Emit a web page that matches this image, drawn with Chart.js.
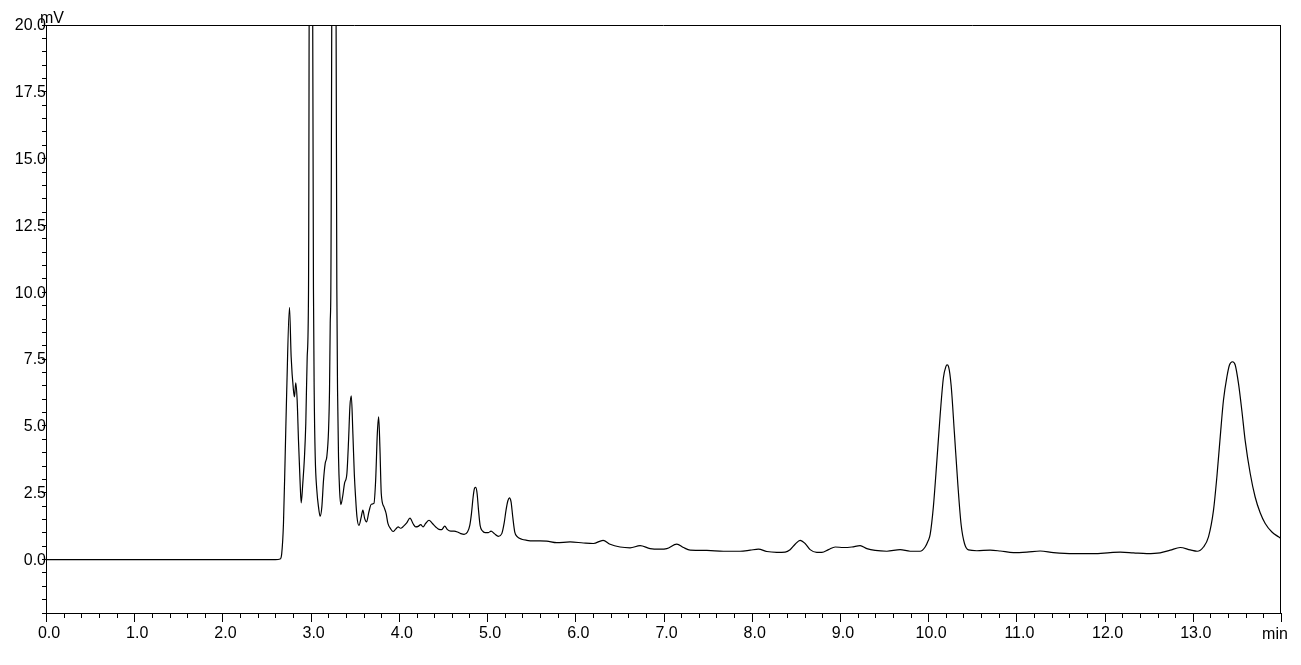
<!DOCTYPE html>
<html>
<head>
<meta charset="utf-8">
<script src="https://cdn.jsdelivr.net/npm/chart.js@4"></script>
<style>
html,body{margin:0;padding:0;background:#fff;}
#wrap{width:1301px;height:665px;position:relative;}
</style>
</head>
<body>
<div id="wrap"><canvas id="c" width="1301" height="665"></canvas></div>
<script>
// ---- data (retention time in min, detector signal in mV) ----
const timeMin = [
  0.000, 1.000, 2.000, 2.600, 2.654, 2.672, 2.692, 2.711, 2.729, 2.760,
  2.779, 2.805, 2.817, 2.831, 2.847, 2.862, 2.881, 2.893, 2.911, 2.930,
  2.945, 2.961, 2.976, 2.998, 3.032, 3.040, 3.052, 3.070, 3.089, 3.108,
  3.127, 3.146, 3.165, 3.183, 3.203, 3.214, 3.222, 3.229, 3.263, 3.297,
  3.305, 3.316, 3.328, 3.342, 3.362, 3.384, 3.411, 3.430, 3.445, 3.461,
  3.479, 3.495, 3.510, 3.525, 3.547, 3.574, 3.592, 3.612, 3.634, 3.660,
  3.688, 3.717, 3.737, 3.756, 3.771, 3.785, 3.801, 3.831, 3.856, 3.876,
  3.907, 3.935, 3.964, 3.992, 4.020, 4.051, 4.089, 4.126, 4.163, 4.191,
  4.219, 4.248, 4.274, 4.304, 4.342, 4.380, 4.418, 4.455, 4.486, 4.520,
  4.551, 4.588, 4.626, 4.664, 4.702, 4.739, 4.778, 4.804, 4.823, 4.842,
  4.857, 4.872, 4.887, 4.903, 4.921, 4.948,
  4.977, 5.015, 5.045, 5.083, 5.128, 5.167, 5.193, 5.215, 5.235, 5.253,
  5.272, 5.291, 5.314, 5.344, 5.393, 5.450, 5.525, 5.601, 5.677, 5.790,
  5.941, 6.092, 6.205, 6.315, 6.395, 6.508, 6.621, 6.735, 6.848, 6.961,
  7.037, 7.151, 7.226, 7.302, 7.491, 7.679, 7.868, 7.982, 8.076, 8.171,
  8.284, 8.379, 8.435, 8.492, 8.549, 8.605, 8.662, 8.738, 8.795, 8.870,
  8.946, 9.040, 9.135, 9.229, 9.305, 9.399, 9.532, 9.683, 9.796, 9.909,
  9.966, 10.000, 10.023, 10.060, 10.099, 10.136, 10.173, 10.201, 10.215, 10.232,
  10.261, 10.298, 10.337, 10.374, 10.412, 10.457, 10.552, 10.703, 10.816, 10.967,
  11.119, 11.270, 11.421, 11.647, 11.874, 12.063, 12.177, 12.328, 12.479, 12.630,
  12.744, 12.857, 12.971, 13.050, 13.121, 13.178, 13.235, 13.273, 13.311, 13.348,
  13.387, 13.416, 13.450, 13.481, 13.518, 13.557, 13.594, 13.651, 13.707, 13.764,
  13.821, 13.897, 13.972, 14.000
];
const signalMV = [
  0.00, 0.00, 0.00, 0.00, 0.02, 0.22, 1.35, 3.84, 6.34, 9.44,
  7.59, 6.34, 6.09, 6.61, 5.97, 4.47, 2.85, 2.12, 2.85, 3.84,
  5.09, 7.59, 10.09, 45.0, 10.09, 6.34, 3.84, 2.60, 1.97, 1.62,
  1.97, 2.97, 3.60, 3.84, 4.84, 6.34, 8.84, 10.09, 45.0, 10.09,
  6.34, 3.84, 2.60, 2.05, 2.34, 2.85, 3.22, 4.47, 5.72, 6.12,
  4.70, 3.20, 2.30, 1.60, 1.28, 1.60, 1.85, 1.54, 1.41, 1.78,
  2.07, 2.10, 2.97, 4.72, 5.34, 4.22, 2.45, 1.97, 1.72, 1.35,
  1.15, 1.05, 1.14, 1.22, 1.17, 1.24, 1.37, 1.55, 1.33, 1.22,
  1.24, 1.31, 1.22, 1.35, 1.47, 1.35, 1.22, 1.13, 1.12, 1.25,
  1.12, 1.06, 1.06, 1.03, 0.97, 0.94, 1.03, 1.28, 1.72, 2.34,
  2.66, 2.70, 2.47, 1.85, 1.28, 1.07,
  1.01, 1.01, 1.06, 0.97, 0.87, 0.97, 1.35, 1.85, 2.19, 2.31,
  2.16, 1.60, 1.03, 0.85, 0.76, 0.72, 0.70, 0.70, 0.69, 0.63,
  0.66, 0.62, 0.60, 0.72, 0.57, 0.47, 0.44, 0.52, 0.41, 0.39,
  0.41, 0.58, 0.45, 0.35, 0.34, 0.31, 0.31, 0.35, 0.39, 0.30,
  0.27, 0.28, 0.37, 0.57, 0.72, 0.60, 0.37, 0.27, 0.27, 0.37,
  0.47, 0.45, 0.47, 0.52, 0.41, 0.34, 0.31, 0.37, 0.31, 0.31,
  0.47, 0.70, 0.94, 2.00, 3.70, 5.40, 6.80, 7.22, 7.28, 7.21,
  6.50, 4.72, 2.80, 1.30, 0.60, 0.36, 0.33, 0.35, 0.32, 0.26,
  0.28, 0.32, 0.26, 0.22, 0.22, 0.26, 0.28, 0.25, 0.22, 0.25,
  0.35, 0.45, 0.36, 0.31, 0.47, 0.85, 1.85, 3.09, 4.59, 5.97,
  6.84, 7.28, 7.40, 7.28, 6.59, 5.55, 4.45, 3.22, 2.34, 1.75,
  1.35, 1.03, 0.85, 0.79
];
const xTickLabels = ['0.0','1.0','2.0','3.0','4.0','5.0','6.0','7.0','8.0','9.0','10.0','11.0','12.0','13.0'];
const yTickLabels = ['0.0','2.5','5.0','7.5','10.0','12.5','15.0','17.5','20.0'];
const xUnitLabel = 'min';
const yUnitLabel = 'mV';
const xMin = 0, xMax = 14, xMajorStep = 1, xMinorStep = 0.2;
const yMin = -2, yMax = 20, yMinorStep = 0.5;

const FONT = '"Liberation Sans", Arial, Helvetica, sans-serif';

const points = timeMin.map((t, i) => ({x: t, y: signalMV[i]}));

const framePlugin = {
  id: 'framePlugin',
  afterDraw(chart) {
    const {ctx, chartArea: a} = chart;
    const xs = chart.scales.x;
    ctx.save();
    ctx.strokeStyle = '#000';
    ctx.lineWidth = 1;
    ctx.beginPath();
    // top and right frame
    ctx.moveTo(a.left, a.top + 0.5); ctx.lineTo(a.right, a.top + 0.5);
    ctx.moveTo(a.right - 0.5, a.top); ctx.lineTo(a.right - 0.5, a.bottom);
    // x tick marks (major long, minor short)
    const nMinor = Math.round((xMax - xMin) / xMinorStep);
    const perMajor = Math.round(xMajorStep / xMinorStep);
    for (let k = 0; k <= nMinor; k++) {
      const v = xMin + k * xMinorStep;
      const px = Math.round(xs.getPixelForValue(v)) + 0.5;
      const len = (k % perMajor === 0) ? 9 : 5;
      ctx.moveTo(px, a.bottom);
      ctx.lineTo(px, a.bottom + len);
    }
    ctx.stroke();
    // unit labels
    ctx.fillStyle = '#000';
    ctx.font = '16px ' + FONT;
    ctx.textBaseline = 'alphabetic';
    ctx.textAlign = 'left';
    ctx.fillText(yUnitLabel, a.left - 6, a.top - 2);
    ctx.textAlign = 'center';
    ctx.fillText(xUnitLabel, a.right - 6, a.bottom + 26);
    ctx.restore();
  }
};

new Chart(document.getElementById('c'), {
  type: 'line',
  data: {
    datasets: [{
      data: points,
      borderColor: '#000',
      borderWidth: 1.2,
      pointRadius: 0,
      fill: false,
      cubicInterpolationMode: 'monotone'
    }]
  },
  options: {
    responsive: false,
    devicePixelRatio: 1,
    animation: false,
    layout: {padding: {left: 0, right: 20, top: 25, bottom: 0}},
    plugins: {legend: {display: false}, tooltip: {enabled: false}, title: {display: false}},
    scales: {
      x: {
        type: 'linear',
        min: xMin, max: xMax,
        afterFit(s) { s.height = 52; },
        grid: {display: false, drawTicks: false},
        border: {display: true, color: '#000', width: 1},
        ticks: {
          stepSize: xMajorStep,
          autoSkip: false,
          maxRotation: 0,
          padding: 11,
          labelOffset: 3,
          color: '#000',
          font: {family: FONT, size: 16},
          callback(v) { const s = Number(v).toFixed(1); return xTickLabels.includes(s) ? s : ''; }
        }
      },
      y: {
        type: 'linear',
        min: yMin, max: yMax,
        afterFit(s) { s.width = 46; },
        grid: {display: true, drawOnChartArea: false, drawTicks: true, tickLength: 4, tickColor: '#000', tickWidth: 1},
        border: {display: true, color: '#000', width: 1},
        ticks: {
          stepSize: yMinorStep,
          autoSkip: false,
          padding: -4,
          labelOffset: 1,
          color: '#000',
          font: {family: FONT, size: 16},
          callback(v) { const s = Number(v).toFixed(1); return (v >= 0 && yTickLabels.includes(s)) ? s : ''; }
        }
      }
    }
  },
  plugins: [framePlugin]
});
</script>
</body>
</html>
